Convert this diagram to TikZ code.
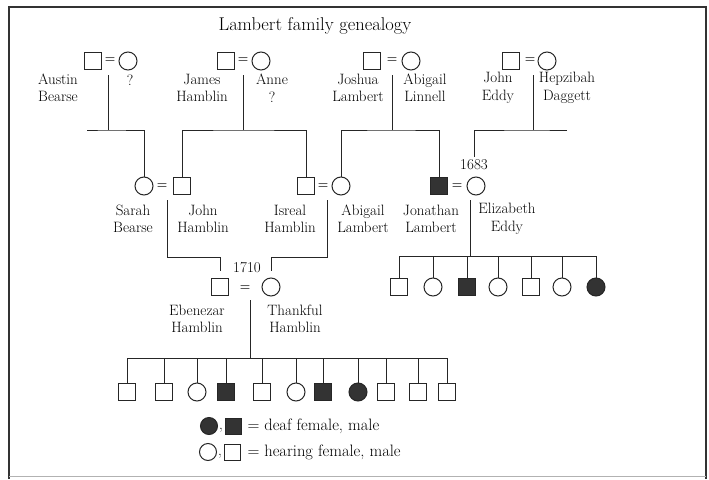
\documentclass[tikz,border=0pt]{standalone}
\usetikzlibrary{positioning,calc}
\tikzset{male/.style={
		% The shape:
		rectangle,
		% The size:
		minimum size=17pt,inner sep=0pt,
		% The border:
		draw=black!85,line width=1pt,
}}
\tikzset{female/.style={
		% The shape:
		circle,
		% The size:
		minimum size=18pt,inner sep=0pt,
		% The border:
		draw=black!85,line width=1pt,
}}
% deaf persons are filled
\tikzset{deafmale/.style={male,fill=black!80}}
\tikzset{deaffemale/.style={female,fill=black!80}}
\tikzset{personname/.style={
		align=center,inner sep=0pt,
		font=\fontsize{15}{17.5}\selectfont,
}}
\tikzset{marriage/.style={inner sep=0pt,font=\fontsize{12}{12}\bfseries}}

\begin{document}
\begin{tikzpicture}[x=1pt,y=-1pt,line width=1pt,black!85,text=black]
	\useasboundingbox (0,0) rectangle (709,479);
	% frame
	\coordinate (frameBL) at (9,479);
	\coordinate (frameTL) at (9,7);
	\coordinate (frameTR) at (706,7);
	\coordinate (frameBR) at (706,479);
	\coordinate (edgeL) at (9,476);
	\coordinate (edgeR) at (706,476);
	\draw[line width=1.6pt,black!80] (frameBL) -- (frameTL) -- (frameTR) -- (frameBR);
	\draw[line width=0.5pt,black!30] (edgeL) -- (edgeR);
	\node[font=\fontsize{18.5}{20}\selectfont] (title) at (315,26) {Lambert family genealogy};
	% first generation
	\node[male] (austin) at (93,61) {};
	\node[marriage] (eqA) at (110,60) {=};
	\node[female] (austinwife) at (128,61) {};
	\node[personname] (nAustin) at (58,88) {Austin\\Bearse};
	\node[personname] (nAustinwife) at (130,80) {?};
	\node[male] (james) at (226,61) {};
	\node[marriage] (eqB) at (243,60) {=};
	\node[female] (anne) at (261,61) {};
	\node[personname] (nJames) at (202,88) {James\\Hamblin};
	\node[personname] (nAnne) at (272,88) {Anne\\?};
	\node[male] (joshua) at (372,61) {};
	\node[marriage] (eqC) at (392,60) {=};
	\node[female] (linnell) at (411,61) {};
	\node[personname] (nJoshua) at (358,88) {Joshua\\Lambert};
	\node[personname] (nLinnell) at (425,88) {Abigail\\Linnell};
	\node[male] (eddy) at (511,61) {};
	\node[marriage] (eqD) at (530,60) {=};
	\node[female] (hepzibah) at (547,61) {};
	\node[personname] (nEddy) at (498,88) {John\\Eddy};
	\node[personname] (nHepzibah) at (567,88) {Hepzibah\\Daggett};
	% second generation
	\node[female] (sarah) at (144,186) {};
	\node[marriage] (eqE) at (162,186) {=};
	\node[male] (john) at (182,186) {};
	\node[personname] (nSarah) at (133,219) {Sarah\\Bearse};
	\node[personname] (nJohn) at (203,219) {John\\Hamblin};
	\node[male] (isreal) at (306,186) {};
	\node[marriage] (eqF) at (323,186) {=};
	\node[female] (abigail) at (341,186) {};
	\node[personname] (nIsreal) at (290,219) {Isreal\\Hamblin};
	\node[personname] (nAbigail) at (363,219) {Abigail\\Lambert};
	\node[deafmale] (jonathan) at (439,186) {};
	\node[marriage] (eqG) at (457,186) {=};
	\node[female] (elizabeth) at (476,186) {};
	\node[personname] (nJonathan) at (431,219) {Jonathan\\Lambert};
	\node[personname] (nElizabeth) at (507,219) {Elizabeth\\Eddy};
	\node[personname] (yr1683) at (474,165) {1683};
	% third generation
	\node[male] (ebenezer) at (220,287) {};
	\node[marriage] (eqH) at (245,288) {=};
	\node[female] (thankful) at (271,287) {};
	\node[personname] (nEbenezer) at (197,319) {Ebenezar\\Hamblin};
	\node[personname] (nThankful) at (295,319) {Thankful\\Hamblin};
	\node[personname] (yr1710) at (247,268) {1710};
	% descent lines, first generation
	\coordinate (dA) at (108,75);
	\coordinate (sA) at (108,130);
	\coordinate (stubA) at (87,130);
	\draw (dA) -- (sA);
	\draw (stubA) -- (sA) -| (sarah.north);
	\coordinate (dB) at (243,75);
	\coordinate (sB) at (243,130);
	\draw (dB) -- (sB);
	\draw (john.north) |- (sB) -| (isreal.north);
	\coordinate (dC) at (392,75);
	\coordinate (sC) at (392,130);
	\draw (dC) -- (sC);
	\draw (abigail.north) |- (sC) -| (jonathan.north);
	\coordinate (dD) at (533,75);
	\coordinate (sD) at (533,130);
	\coordinate (stubD) at (567,130);
	\draw (dD) -- (sD);
	\draw (stubD) -- (sD) -| ([yshift=2pt]yr1683.north);
	% descent lines, second generation
	\coordinate (dE) at (167,200);
	\coordinate (sE) at (167,257);
	\draw[shorten >=7pt] (dE) -- (sE) -| (ebenezer.north);
	\coordinate (dF) at (327,200);
	\coordinate (sF) at (327,257);
	\draw[shorten >=7pt] (dF) -- (sF) -| (thankful.north);
	\coordinate (dG) at (470,200);
	\coordinate (sG) at (470,256);
	\draw (dG) -- (sG);
	\foreach \x/\kind [count=\i] in {399/male,433/female,467/deafmale,498/female,531/male,562/female,596/deaffemale}{
		\node[\kind] (jl\i) at (\x,287) {};
		\draw (jl\i.north) -- (jl\i.north |- sG);
	}
	\draw (jl1.north |- sG) -- (jl7.north |- sG);
	% children of Ebenezar and Thankful
	\coordinate (dH) at (250,300);
	\coordinate (sH) at (250,358);
	\draw (dH) -- (sH);
	\foreach \x/\kind [count=\i] in {127/male,164/male,197/female,226/deafmale,262/male,296/female,323/deafmale,358/deaffemale,386/male,418/male,447/male}{
		\node[\kind] (eh\i) at (\x,392) {};
		\draw (eh\i.north) -- (eh\i.north |- sH);
	}
	\draw (eh1.north |- sH) -- (eh11.north |- sH);
	% legend
	\node[deaffemale,minimum size=17pt] (ldf) at (209,426) {};
	\node[personname] (lcommaA) at (221,430) {,};
	\node[deafmale,minimum size=16pt] (ldm) at (233,426) {};
	\node[personname,font=\fontsize{16.5}{18}\selectfont,anchor=west] (ltextA) at (247,426) {= deaf female, male};
	\node[female,minimum size=17pt] (lhf) at (208,452) {};
	\node[personname] (lcommaB) at (220,456) {,};
	\node[male,minimum size=16pt] (lhm) at (232,452) {};
	\node[personname,font=\fontsize{16.5}{18}\selectfont,anchor=west] (ltextB) at (247,452) {= hearing female, male};
\end{tikzpicture}
\end{document}
